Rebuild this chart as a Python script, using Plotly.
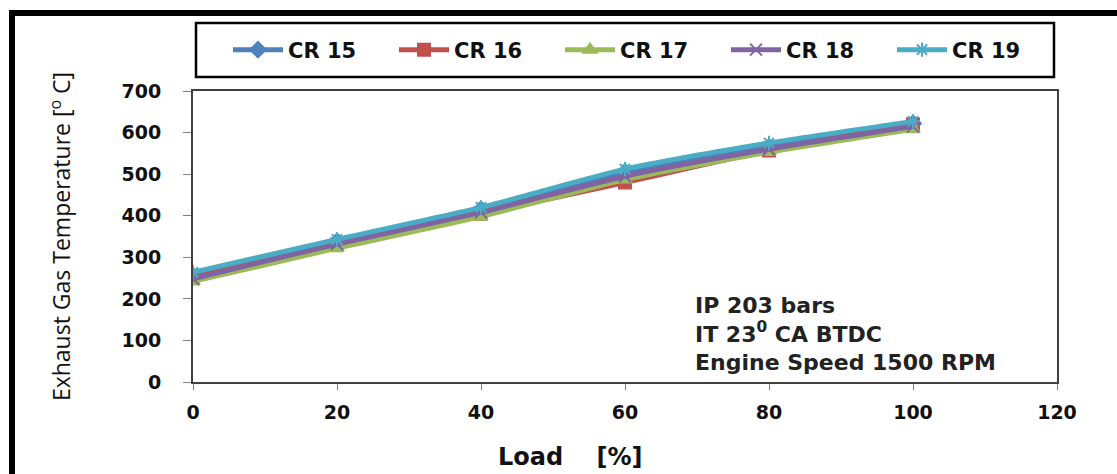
import plotly.graph_objects as go

load = [0, 20, 40, 60, 80, 100]
cr15 = [255, 338, 415, 505, 565, 622]
cr16 = [252, 330, 405, 480, 557, 620]
cr17 = [242, 322, 398, 487, 553, 608]
cr18 = [248, 332, 408, 495, 560, 615]
cr19 = [264, 343, 420, 512, 575, 627]

names = ["CR 15", "CR 16", "CR 17", "CR 18", "CR 19"]
series = [cr15, cr16, cr17, cr18, cr19]
colors = ["#4F81BD", "#C0504D", "#9BBB59", "#8064A2", "#4BACC6"]
symbols = ["diamond", "square", "triangle-up", "x-thin-open", "asterisk-open"]

fig = go.Figure()
for n, s, c, m in zip(names, series, colors, symbols):
    fig.add_trace(go.Scatter(
        x=load, y=s, name=n, mode="lines+markers",
        line=dict(color=c, width=5, shape="spline", smoothing=0.6),
        marker=dict(symbol=m, size=12, color=c, line=dict(color=c, width=2)),
    ))

W, H = 1117, 474
L, R, T, B = 193, 60, 91, 92
pw, ph = W - L - R, H - T - B

def px(x):
    return (x - L) / pw

def py(y):
    return (H - B - y) / ph

tickfont = dict(family="DejaVu Sans", size=19, color="#111", weight="bold")

fig.update_layout(
    width=W, height=H,
    margin=dict(l=L, r=R, t=T, b=B),
    paper_bgcolor="white", plot_bgcolor="white",
    showlegend=True,
    legend=dict(
        orientation="h", x=px(228), y=py(50), xanchor="left", yanchor="middle",
        entrywidth=101, entrywidthmode="pixels", itemwidth=50,
        font=dict(family="DejaVu Sans", size=21, color="#111", weight="bold"),
        bgcolor="rgba(0,0,0,0)",
    ),
    xaxis=dict(
        range=[0, 120], tickvals=[0, 20, 40, 60, 80, 100, 120],
        showgrid=False, zeroline=False,
        showline=True, linecolor="#404040", linewidth=2, mirror=True,
        ticks="outside", ticklen=6, tickcolor="#808080", ticklabelstandoff=6,
        tickfont=tickfont,
    ),
    yaxis=dict(
        range=[0, 700], tickvals=[0, 100, 200, 300, 400, 500, 600, 700],
        showgrid=False, zeroline=False,
        showline=True, linecolor="#404040", linewidth=2, mirror=True,
        ticks="outside", ticklen=8, tickcolor="#808080", ticklabelstandoff=18,
        tickfont=tickfont,
        title=dict(text="Exhaust Gas Temperature [<sup>o</sup> C]",
                   font=dict(family="Open Sans, Lato, sans-serif", size=23, color="#111"),
                   standoff=44),
    ),
    shapes=[
        dict(type="rect", xref="paper", yref="paper",
             x0=px(196), x1=px(1054), y0=py(23), y1=py(77),
             line=dict(color="black", width=2.5), fillcolor="rgba(0,0,0,0)", layer="below"),
        dict(type="line", xref="paper", yref="paper",
             x0=px(9), x1=px(1130), y0=py(13), y1=py(13),
             line=dict(color="black", width=6)),
        dict(type="line", xref="paper", yref="paper",
             x0=px(12), x1=px(12), y0=py(10), y1=py(480),
             line=dict(color="black", width=6)),
    ],
    annotations=[
        dict(xref="paper", yref="paper", x=px(693), y=py(334), xanchor="left", yanchor="middle",
             align="left", showarrow=False,
             text="IP 203 bars<br>IT 23<sup>0</sup> CA BTDC<br>Engine Speed 1500 RPM",
             font=dict(family="DejaVu Sans", size=22, color="#222", weight="bold")),
        dict(xref="paper", yref="paper", x=px(570), y=py(457), xanchor="center", yanchor="middle",
             showarrow=False,
             text="Load\u00a0\u00a0\u00a0\u00a0[%]",
             font=dict(family="DejaVu Sans", size=24, color="#111", weight="bold")),
    ],
)

fig.write_html("out.html")
